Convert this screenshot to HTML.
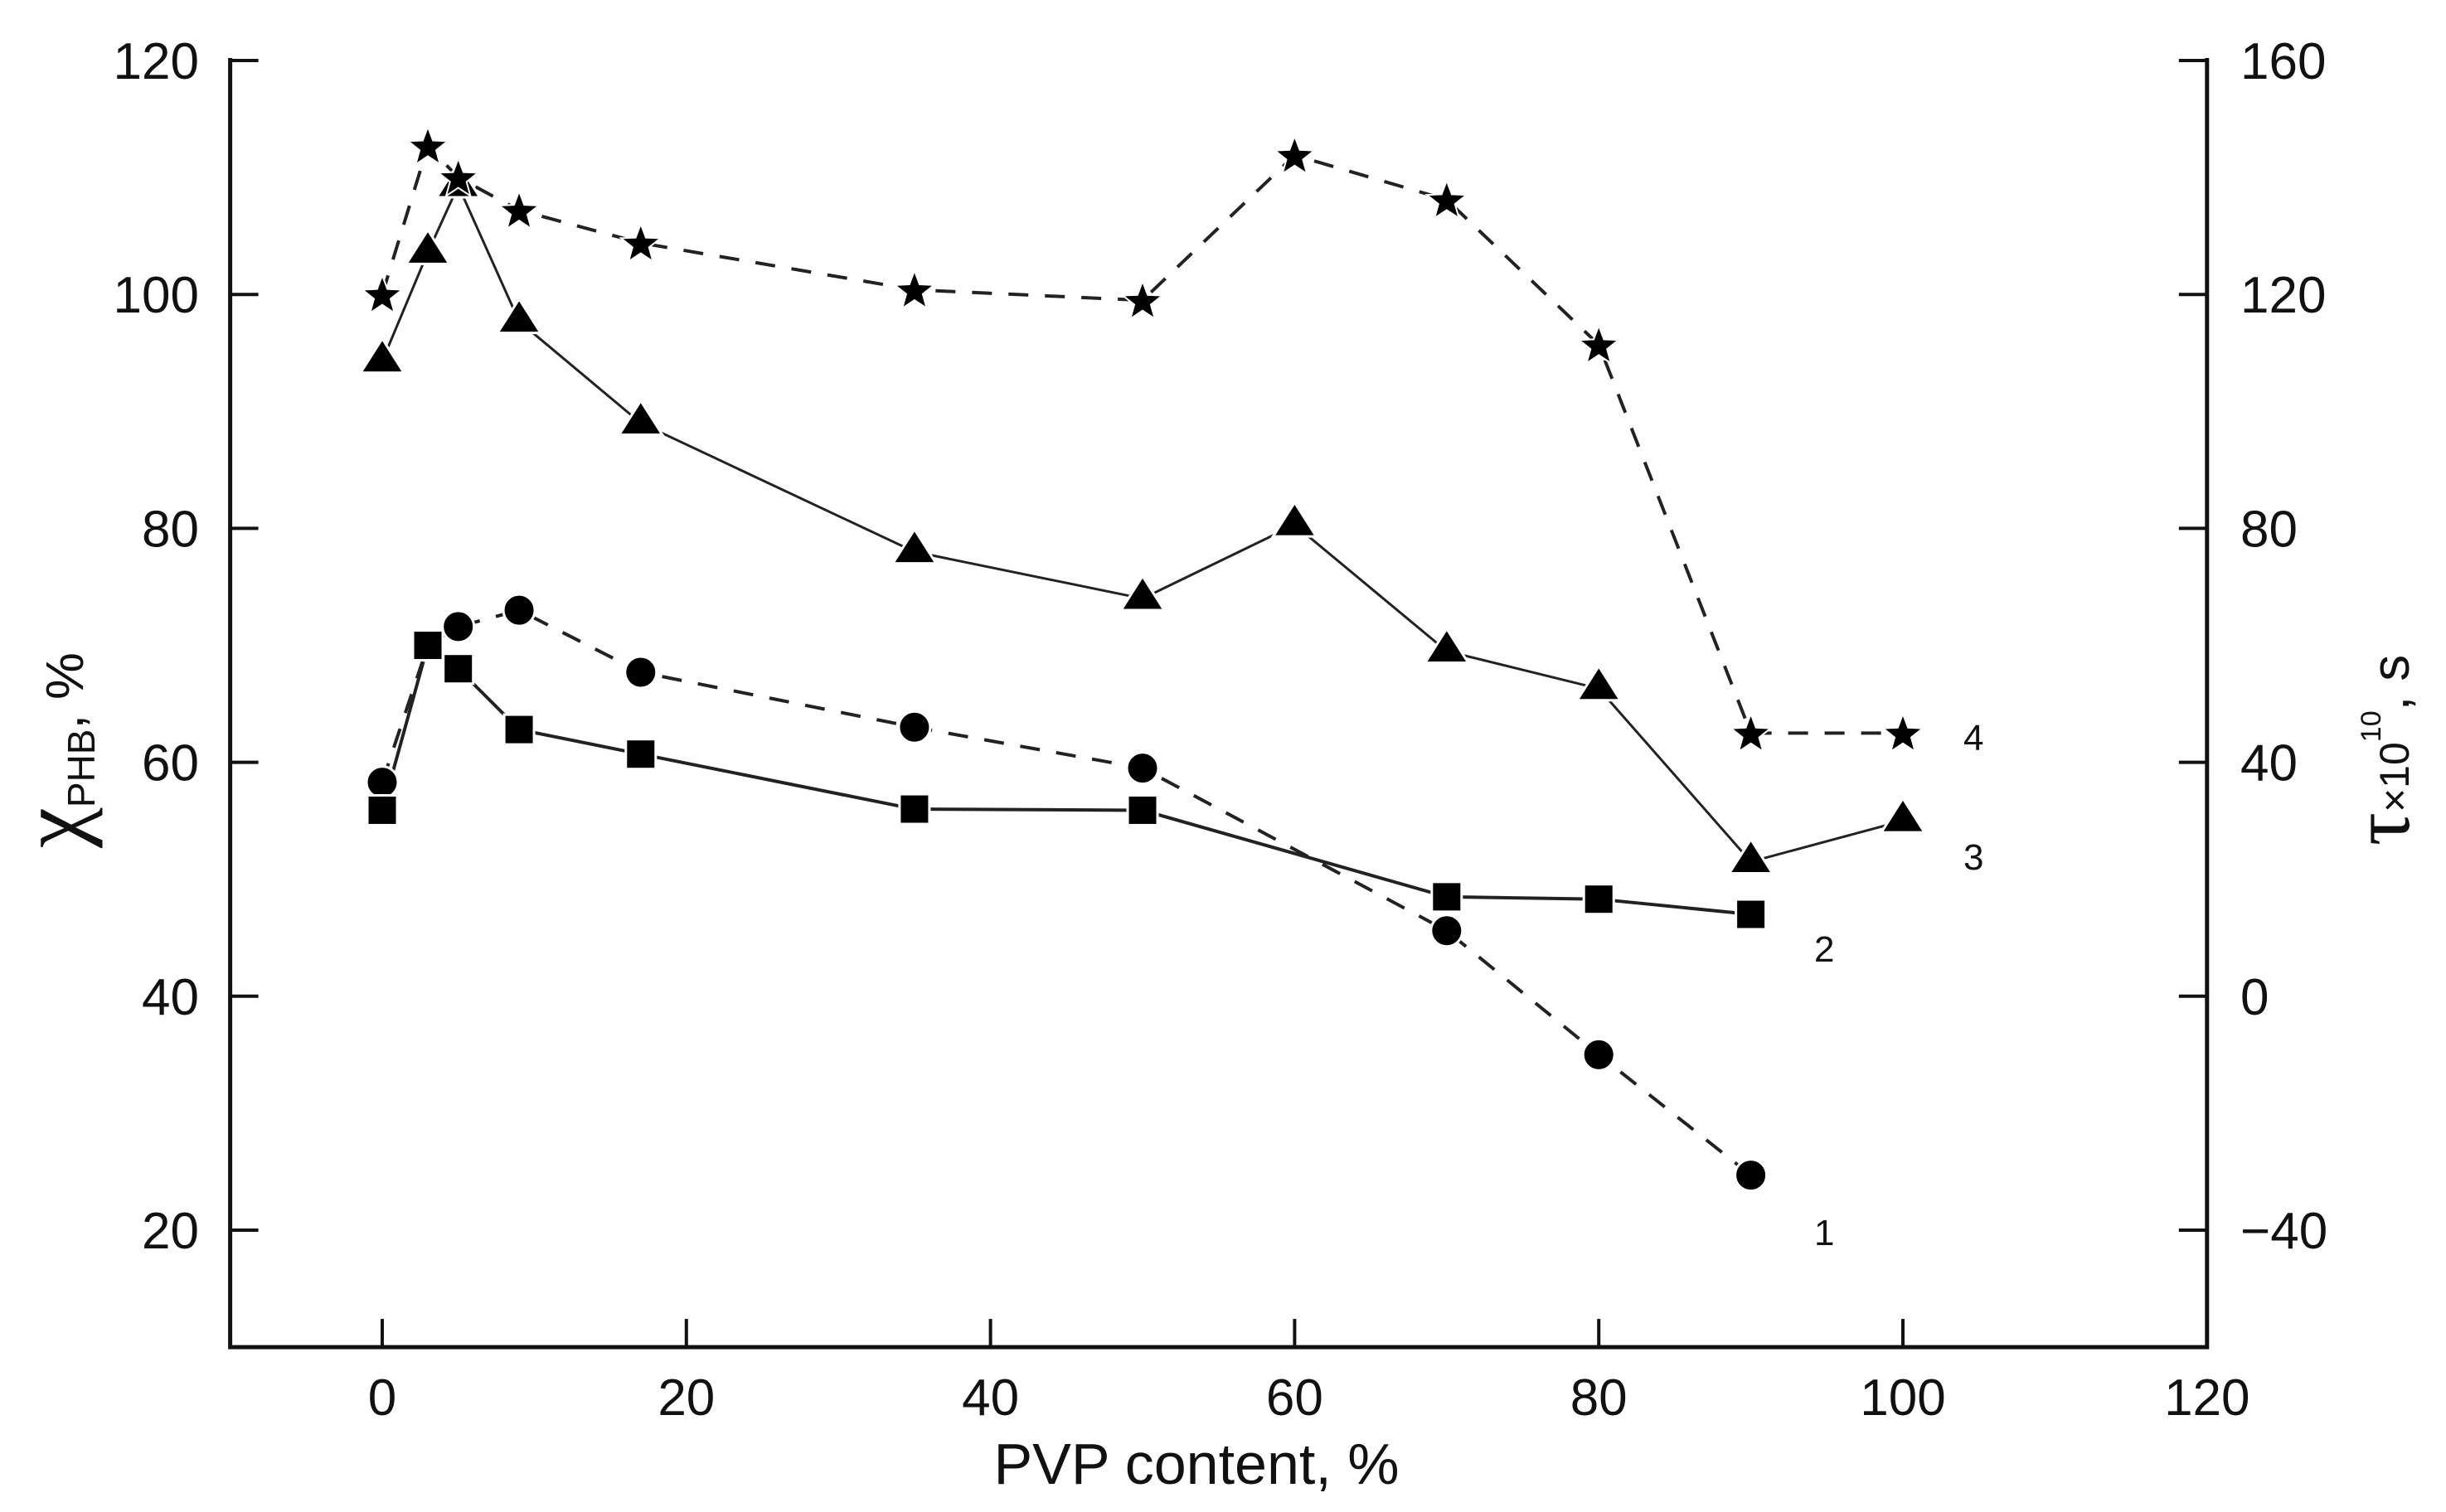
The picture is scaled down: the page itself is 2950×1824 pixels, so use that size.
<!DOCTYPE html>
<html><head><meta charset="utf-8"><style>
html,body{margin:0;padding:0;background:#fff;}
svg{display:block;}
</style></head><body>
<svg id="chart" width="2950" height="1824" viewBox="0 0 2950 1824" xmlns="http://www.w3.org/2000/svg" font-family="'Liberation Sans', sans-serif">
<rect x="0" y="0" width="2950" height="1824" fill="#fff"/>
<g id="axes"></g>
<g id="series"></g>
<text x="1443" y="1790" font-size="70" text-anchor="middle" fill="#111">PVP content, %</text>
<text transform="translate(100,905) rotate(-90)" text-anchor="middle" fill="#111" font-size="64"><tspan font-family="'Liberation Serif', serif" font-size="110">χ</tspan><tspan font-size="46" dy="14">PHB</tspan><tspan dy="-14">, %</tspan></text>
<text transform="translate(2905,905) rotate(-90)" text-anchor="middle" fill="#111" font-size="64"><tspan font-family="'Liberation Serif', serif" font-size="100">τ</tspan><tspan font-size="50">×10</tspan><tspan font-size="34" dy="-34">10</tspan><tspan dy="34">, s</tspan></text>
<text x="2368" y="905" font-size="44" fill="#111">4</text>
<text x="2368" y="1049" font-size="44" fill="#111">3</text>
<text x="2188" y="1160" font-size="44" fill="#111">2</text>
<text x="2188" y="1502" font-size="44" fill="#111">1</text>
</svg>
<script>
const xTicks = [0, 20, 40, 60, 80, 100, 120];
const yLeftTicks = [20, 40, 60, 80, 100, 120];
const yRightTicks = [-40, 0, 40, 80, 120, 160];
const pvpA = [0, 3, 5, 9, 17, 35, 50, 70, 80, 90];
const pvpB = [0, 3, 5, 9, 17, 35, 50, 60, 70, 80, 90, 100];
const circles1 = [58.3, 70, 71.6, 73, 67.7, 63, 59.5, 45.6, 35, 24.7];
const squares2 = [55.9, 70, 68, 62.8, 60.7, 56, 55.9, 48.5, 48.3, 47];
const triangles3 = [108.6, 127.2, 138.6, 115.4, 98, 76, 68, 80.6, 59, 52.6, 23, 30];
const stars4 = [120, 145.4, 140, 134.4, 128.8, 120.8, 119, 143.8, 136.2, 111.4, 45, 45];

const NS = 'http://www.w3.org/2000/svg';
const X0 = 461, XS = 18.34, TOP = 73, YS = 14.11, YRS = 7.055;
const xp = v => X0 + v * XS;
const yl = v => TOP + (120 - v) * YS;
const yr = v => TOP + (160 - v) * YRS;
const LEFT = xp(-10), RIGHT = xp(120), BOTTOM = yl(10);

function mk(tag, attrs, parent) {
  const e = document.createElementNS(NS, tag);
  for (const k in attrs) e.setAttribute(k, attrs[k]);
  parent.appendChild(e);
  return e;
}
const axes = document.getElementById('axes');
const ser = document.getElementById('series');

let e = mk('polyline', {points: `${LEFT},${TOP - 3} ${LEFT},${BOTTOM} ${RIGHT},${BOTTOM} ${RIGHT},${TOP - 3}`, fill: 'none', stroke: '#111', 'stroke-width': 5}, axes);



xTicks.forEach(t => {
  const l = mk('line', {x1: xp(t), x2: xp(t), y1: BOTTOM, y2: BOTTOM - 34, stroke: '#111', 'stroke-width': 4}, axes);
  
  
  const tx = mk('text', {x: xp(t), y: BOTTOM + 82, 'font-size': 62, 'text-anchor': 'middle', fill: '#111'}, axes);
  tx.textContent = t;
  
  
});
yLeftTicks.forEach(t => {
  const l = mk('line', {x1: LEFT, x2: LEFT + 34, y1: yl(t), y2: yl(t), stroke: '#111', 'stroke-width': 4}, axes);
  
  
  const tx = mk('text', {x: 240, y: yl(t) + 22, 'font-size': 62, 'text-anchor': 'end', fill: '#111'}, axes);
  tx.textContent = t;
  
  
});
yRightTicks.forEach(t => {
  const l = mk('line', {x1: RIGHT, x2: RIGHT - 34, y1: yr(t), y2: yr(t), stroke: '#111', 'stroke-width': 4}, axes);
  
  
  const tx = mk('text', {x: 2702, y: yr(t) + 22, 'font-size': 62, 'text-anchor': 'start', fill: '#111'}, axes);
  tx.textContent = t < 0 ? '\u2212' + Math.abs(t) : t;
  
  
});

function line(xs, ys, yf, dash, w, name) {
  const pts = xs.map((x, i) => `${xp(x)},${yf(ys[i])}`).join(' ');
  const p = mk('polyline', {points: pts, fill: 'none', stroke: '#222', 'stroke-width': w}, ser);
  if (dash) p.setAttribute('stroke-dasharray', dash);
  
  
}
line(pvpA, circles1, yl, '24,20', 4, 'line-series-1');
line(pvpA, squares2, yl, null, 4, 'line-series-2');
line(pvpB, triangles3, yr, null, 3, 'line-series-3');
line(pvpB, stars4, yr, '24,20', 4, 'line-series-4');

function starPts(cx, cy, R, r) {
  const p = [];
  for (let i = 0; i < 10; i++) {
    const a = -Math.PI / 2 + i * Math.PI / 5, rr = i % 2 ? r : R;
    p.push(`${cx + rr * Math.cos(a)},${cy + rr * Math.sin(a)}`);
  }
  return p.join(' ');
}
pvpA.forEach((x, i) => {
  const c = mk('circle', {cx: xp(x), cy: yl(circles1[i]), r: 19, fill: '#000', stroke: '#fff', 'stroke-width': 3}, ser);
  
  
});
pvpA.forEach((x, i) => {
  const s = mk('rect', {x: xp(x) - 18, y: yl(squares2[i]) - 18, width: 36, height: 36, fill: '#000', stroke: '#fff', 'stroke-width': 3}, ser);
  
  
});
pvpB.forEach((x, i) => {
  const cx = xp(x), cy = yr(triangles3[i]);
  const t = mk('polygon', {points: `${cx},${cy - 27} ${cx - 26},${cy + 14} ${cx + 26},${cy + 14}`, fill: '#000', stroke: '#fff', 'stroke-width': 3}, ser);
  
  
});
pvpB.forEach((x, i) => {
  const s = mk('polygon', {points: starPts(xp(x), yr(stars4[i]) + 2, 25, 10.5), fill: '#000', stroke: '#fff', 'stroke-width': 2}, ser);
  
  
});
</script>
</body></html>
